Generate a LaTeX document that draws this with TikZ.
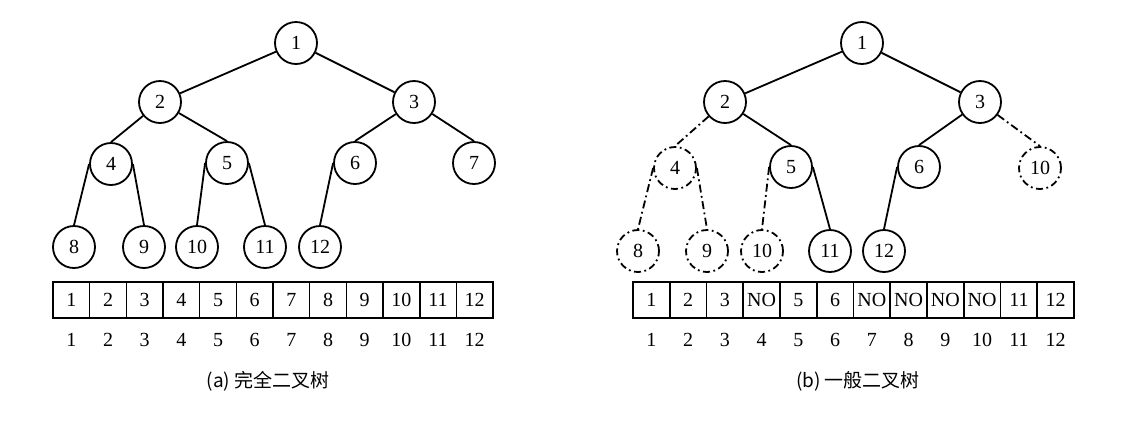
\documentclass[tikz,border=0pt]{standalone}
\usepackage{fontspec}
\setmainfont{Liberation Serif}
\newfontfamily\cjk{Noto Sans CJK SC}
\begin{document}
\begin{tikzpicture}[x=1bp,y=-1bp,
  nd/.style={circle, draw, line width=1.8bp, minimum size=42bp, inner sep=0pt, font=\fontsize{20bp}{24bp}\selectfont},
  dnd/.style={nd, dash pattern=on 7bp off 3.5bp on 1.8bp off 3.5bp},
  edge/.style={line width=1.8bp},
  dedge/.style={edge, dash pattern=on 8bp off 3.5bp on 1.8bp off 3.5bp},
  cell/.style={draw, line width=1.6bp, minimum height=36bp, inner sep=0pt, font=\fontsize{20bp}{24bp}\selectfont},
  idx/.style={inner sep=0pt, font=\fontsize{20bp}{24bp}\selectfont},
  captext/.style={inner sep=0pt, font=\cjk\fontsize{19bp}{23bp}\selectfont}]
\useasboundingbox (0,0) rectangle (1135,425);
% ---------- (a) complete binary tree ----------
\node[nd] (a1) at (296,43) {1};
\node[nd] (a2) at (160,102) {2};
\node[nd] (a3) at (414,102) {3};
\node[nd] (a4) at (111,164) {4};
\node[nd] (a5) at (227,163) {5};
\node[nd] (a6) at (355,163) {6};
\node[nd] (a7) at (474,163) {7};
\node[nd] (a8) at (74,247) {8};
\node[nd] (a9) at (144,247) {9};
\node[nd] (a10) at (197,247) {10};
\node[nd] (a11) at (265,247) {11};
\node[nd] (a12) at (320,247) {12};
\draw[edge] (a1) -- (a2);
\draw[edge] (a1) -- (a3);
\draw[edge] (a2) -- (a4.north);
\draw[edge] (a2) -- (a5.north);
\draw[edge] (a3) -- (a6.north);
\draw[edge] (a3) -- (a7.north);
\draw[edge] (a4.west) -- (a8.north);
\draw[edge] (a4.east) -- (a9.north);
\draw[edge] (a5.west) -- (a10.north);
\draw[edge] (a5.east) -- (a11.north);
\draw[edge] (a6.west) -- (a12.north);
\foreach \i in {1,...,12} {
  \node[cell, minimum width=36.67bp] (ac\i) at ({53+(\i-0.5)*36.67},300) {\i};
  \node[idx] (ai\i) at ({53+(\i-0.5)*36.67},340) {\i};
}
\node[captext] (capa) at (268,381) {(a) 完全二叉树};
% ---------- (b) general binary tree ----------
\node[nd] (b1) at (862,43) {1};
\node[nd] (b2) at (725,102) {2};
\node[nd] (b3) at (980,102) {3};
\node[dnd] (b4) at (675,168) {4};
\node[nd] (b5) at (791,167) {5};
\node[nd] (b6) at (919,167) {6};
\node[dnd] (b7) at (1040,168) {10};
\node[dnd] (b8) at (638,251) {8};
\node[dnd] (b9) at (707,251) {9};
\node[dnd] (b10) at (762,251) {10};
\node[nd] (b11) at (830,251) {11};
\node[nd] (b12) at (884,251) {12};
\draw[edge] (b1) -- (b2);
\draw[edge] (b1) -- (b3);
\draw[dedge] (b2) -- (b4.north);
\draw[edge] (b2) -- (b5.north);
\draw[edge] (b3) -- (b6.north);
\draw[dedge] (b3) -- (b7.north);
\draw[dedge] (b4.west) -- (b8.north);
\draw[dedge] (b4.east) -- (b9.north);
\draw[dedge] (b5.west) -- (b10.north);
\draw[edge] (b5.east) -- (b11.north);
\draw[edge] (b6.west) -- (b12.north);
\foreach \i/\t in {1/1,2/2,3/3,4/NO,5/5,6/6,7/NO,8/NO,9/NO,10/NO,11/11,12/12} {
  \node[cell, minimum width=36.75bp] (bc\i) at ({633+(\i-0.5)*36.75},300) {\t};
  \node[idx] (bi\i) at ({633+(\i-0.5)*36.75},340) {\i};
}
\node[captext] (capb) at (858,381) {(b) 一般二叉树};
\end{tikzpicture}
\end{document}
